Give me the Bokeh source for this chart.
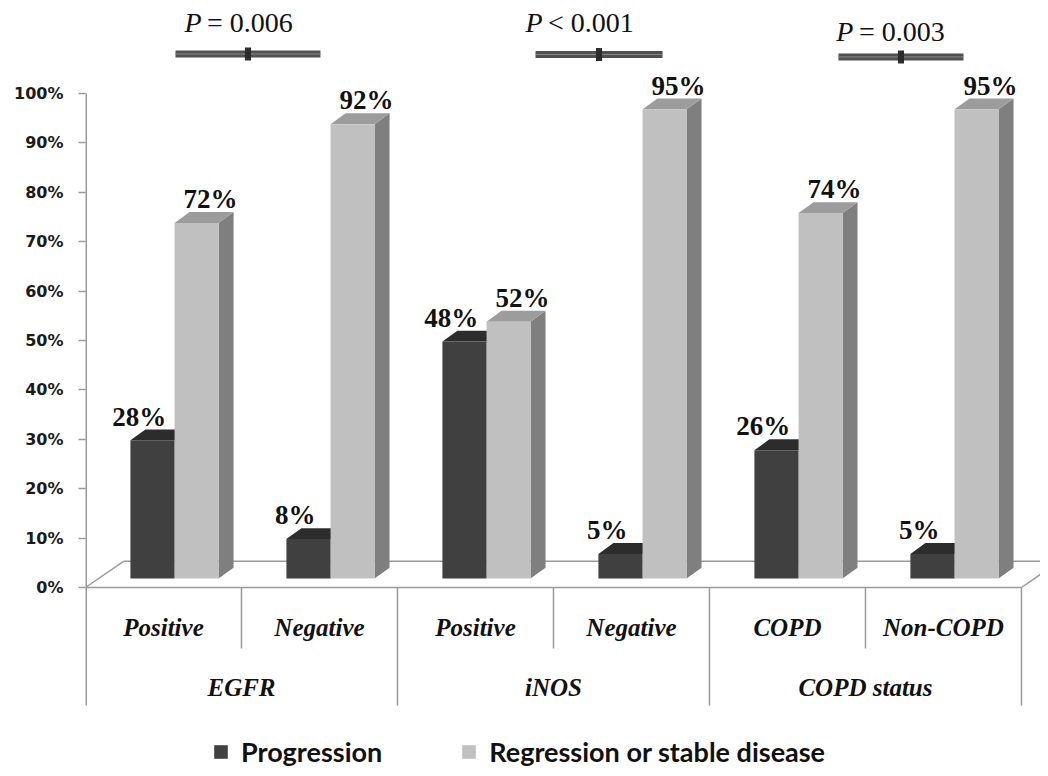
from bokeh.plotting import figure
from bokeh.models import Range1d, FixedTicker, ColumnDataSource, Legend, LegendItem
from bokeh.core.properties import value
from bokeh.embed import file_html
from bokeh.resources import INLINE

# ---------------- data ----------------
groups = ["EGFR", "iNOS", "COPD status"]
subcategories = ["Positive", "Negative", "Positive", "Negative", "COPD", "Non-COPD"]
progression = [28, 8, 48, 5, 26, 5]
regression = [72, 92, 52, 95, 74, 95]
series_names = ["Progression", "Regression or stable disease"]
p_values = ["= 0.006", "< 0.001", "= 0.003"]
y_ticks = [0, 10, 20, 30, 40, 50, 60, 70, 80, 90, 100]
y_tick_labels = ["0%", "10%", "20%", "30%", "40%", "50%", "60%", "70%", "80%", "90%", "100%"]

# ---------------- style / geometry constants ----------------
BASE = 1.8          # bar base above floor front edge (3D depth)
BAR_L, BAR_M, BAR_R = 0.288, 0.571, 0.853
DX, DY = 0.096, 2.2          # bar depth offset
FLOOR_DX, FLOOR_DY = 0.244, 5.3
DARK_FRONT, DARK_TOP = "#404040", "#2c2c2c"
LIGHT_FRONT, LIGHT_TOP, LIGHT_SIDE = "#c0c0c0", "#9c9c9c", "#7f7f7f"
LINE_C = "#9a9a9a"
SERIF = value("Liberation Serif")

n = len(subcategories)

p = figure(width=1040, height=768,
           x_range=Range1d(0, 6.122), y_range=Range1d(-36.64, 118.83),
           x_axis_type=None, output_backend="svg", toolbar_location=None,
           min_border_left=85, min_border_right=0, min_border_top=0, min_border_bottom=0)
p.grid.visible = False
p.outline_line_color = None
p.background_fill_color = "white"

ax = p.yaxis[0]
ax.ticker = FixedTicker(ticks=y_ticks)
ax.major_label_overrides = {t: l for t, l in zip(y_ticks, y_tick_labels)}
ax.axis_line_color = None
ax.major_tick_in = 0
ax.major_tick_out = 7
ax.major_tick_line_color = LINE_C
ax.major_tick_line_width = 1.5
ax.minor_tick_line_color = None
ax.major_label_standoff = 15
ax.major_label_text_font = "DejaVu Sans"
ax.major_label_text_font_style = "bold"
ax.major_label_text_font_size = "16px"
ax.major_label_text_color = "#1a1a1a"

# ---------------- floor & category table lines ----------------
sub_div = [1, 3, 5]
grp_div = [2, 4, 6]
# vertical value-axis line (at frame edge, drawn wider since half is clipped)
p.segment(x0=[0], y0=[100], x1=[0], y1=[-23.9], line_color=LINE_C, line_width=3)
x0s = [0, 0, 6, FLOOR_DX] + sub_div + grp_div
y0s = [0, 0, 0, FLOOR_DY] + [0] * 3 + [0] * 3
x1s = [6, FLOOR_DX, 6 + FLOOR_DX, 6 + FLOOR_DX] + sub_div + grp_div
y1s = [0, FLOOR_DY, FLOOR_DY, FLOOR_DY] + [-12.35] * 3 + [-23.9] * 3
p.segment(x0=x0s, y0=y0s, x1=x1s, y1=y1s, line_color=LINE_C, line_width=1.5)

# ---------------- 3D bars ----------------
def bar_geom(values, lo, hi):
    left = [i + lo for i in range(n)]
    right = [i + hi for i in range(n)]
    top = [BASE + v for v in values]
    top_xs = [[l, r, r + DX, l + DX] for l, r in zip(left, right)]
    top_ys = [[t, t, t + DY, t + DY] for t in top]
    side_xs = [[r, r + DX, r + DX, r] for r in right]
    side_ys = [[BASE, BASE + DY, t + DY, t] for t in top]
    return left, right, top, top_xs, top_ys, side_xs, side_ys

dl, dr, dt, dtx, dty, dsx, dsy = bar_geom(progression, BAR_L, BAR_M)
ll, lr, lt, ltx, lty, lsx, lsy = bar_geom(regression, BAR_M, BAR_R)

p.patches(xs=dsx, ys=dsy, fill_color="#303030", line_color=None)
p.patches(xs=dtx, ys=dty, fill_color=DARK_TOP, line_color=None)
r_dark = p.quad(left=dl, right=dr, bottom=BASE, top=dt, fill_color=DARK_FRONT, line_color=None)
p.patches(xs=lsx, ys=lsy, fill_color=LIGHT_SIDE, line_color=None)
p.patches(xs=ltx, ys=lty, fill_color=LIGHT_TOP, line_color=None)
r_light = p.quad(left=ll, right=lr, bottom=BASE, top=lt, fill_color=LIGHT_FRONT, line_color=None)

# value labels
lab_dark = ColumnDataSource(dict(
    x=[(a + b) / 2 - 0.085 for a, b in zip(dl, dr)],
    y=[t + DY + 2.6 for t in dt],
    text=[f"{v}%" for v in progression]))
lab_light = ColumnDataSource(dict(
    x=[(a + b) / 2 + 0.09 for a, b in zip(ll, lr)],
    y=[t + DY + 2.6 for t in lt],
    text=[f"{v}%" for v in regression]))
for src in (lab_dark, lab_light):
    p.text(x="x", y="y", text="text", source=src, text_font=SERIF, text_font_style="bold",
           text_font_size="27px", text_align="center", text_baseline="alphabetic", text_color="#111111")

# category labels
p.text(x=[i + 0.5 for i in range(n)], y=[-8.1] * n, text=subcategories, text_font=SERIF,
       text_font_style="bold italic", text_font_size="25px", text_align="center",
       text_baseline="middle", text_color="#111111")
p.text(x=[2 * g + 1 for g in range(len(groups))], y=[-20.2] * len(groups), text=groups, text_font=SERIF,
       text_font_style="bold italic", text_font_size="25px", text_align="center",
       text_baseline="middle", text_color="#111111")

# ---------------- P-value annotations ----------------
p_split_x = [0.744, 2.93, 4.923]
p_text_y = [114.4, 114.4, 112.6]
p_bar_x0 = [0.577, 2.885, 4.827]
p_bar_x1 = [1.506, 3.699, 5.628]
p_bar_y = [108.0, 107.9, 107.4]
p.text(x=p_split_x, y=p_text_y, text=["P"] * 3, text_font=SERIF, text_font_style="italic",
       text_font_size="28px", text_align="right", text_baseline="middle", text_color="#111111")
p.text(x=[x + 0.035 for x in p_split_x], y=p_text_y, text=p_values, text_font=SERIF,
       text_font_size="28px", text_align="left", text_baseline="middle", text_color="#111111")
p.segment(x0=p_bar_x0, y0=p_bar_y, x1=p_bar_x1, y1=p_bar_y, line_color="#505050",
          line_width=7, line_cap="butt")
p.segment(x0=p_bar_x0, y0=p_bar_y, x1=p_bar_x1, y1=p_bar_y, line_color="#8a8a8a",
          line_width=1, line_cap="butt")
mids = [(a + b) / 2 for a, b in zip(p_bar_x0, p_bar_x1)]
bx0, by0, bx1, by1 = [], [], [], []
for m, yb in zip(mids, p_bar_y):
    for off in (-0.013, 0.0, 0.013):
        bx0.append(m + off); bx1.append(m + off)
        by0.append(yb - 1.3); by1.append(yb + 1.3)
p.segment(x0=bx0, y0=by0, x1=bx1, y1=by1, line_color="#2a2a2a", line_width=2)

# ---------------- legend ----------------
legend = Legend(items=[LegendItem(label=series_names[0], renderers=[r_dark]),
                       LegendItem(label=series_names[1], renderers=[r_light])],
                orientation="horizontal", location=(127, 0),
                glyph_width=17, glyph_height=17, label_standoff=12, spacing=78,
                padding=0, margin=0, border_line_color=None, background_fill_alpha=0,
                label_text_font="Lato", label_text_font_style="bold",
                label_text_font_size="27px", label_text_color="#111111")
p.add_layout(legend, "center")

open("out.html", "w").write(file_html(p, INLINE))
